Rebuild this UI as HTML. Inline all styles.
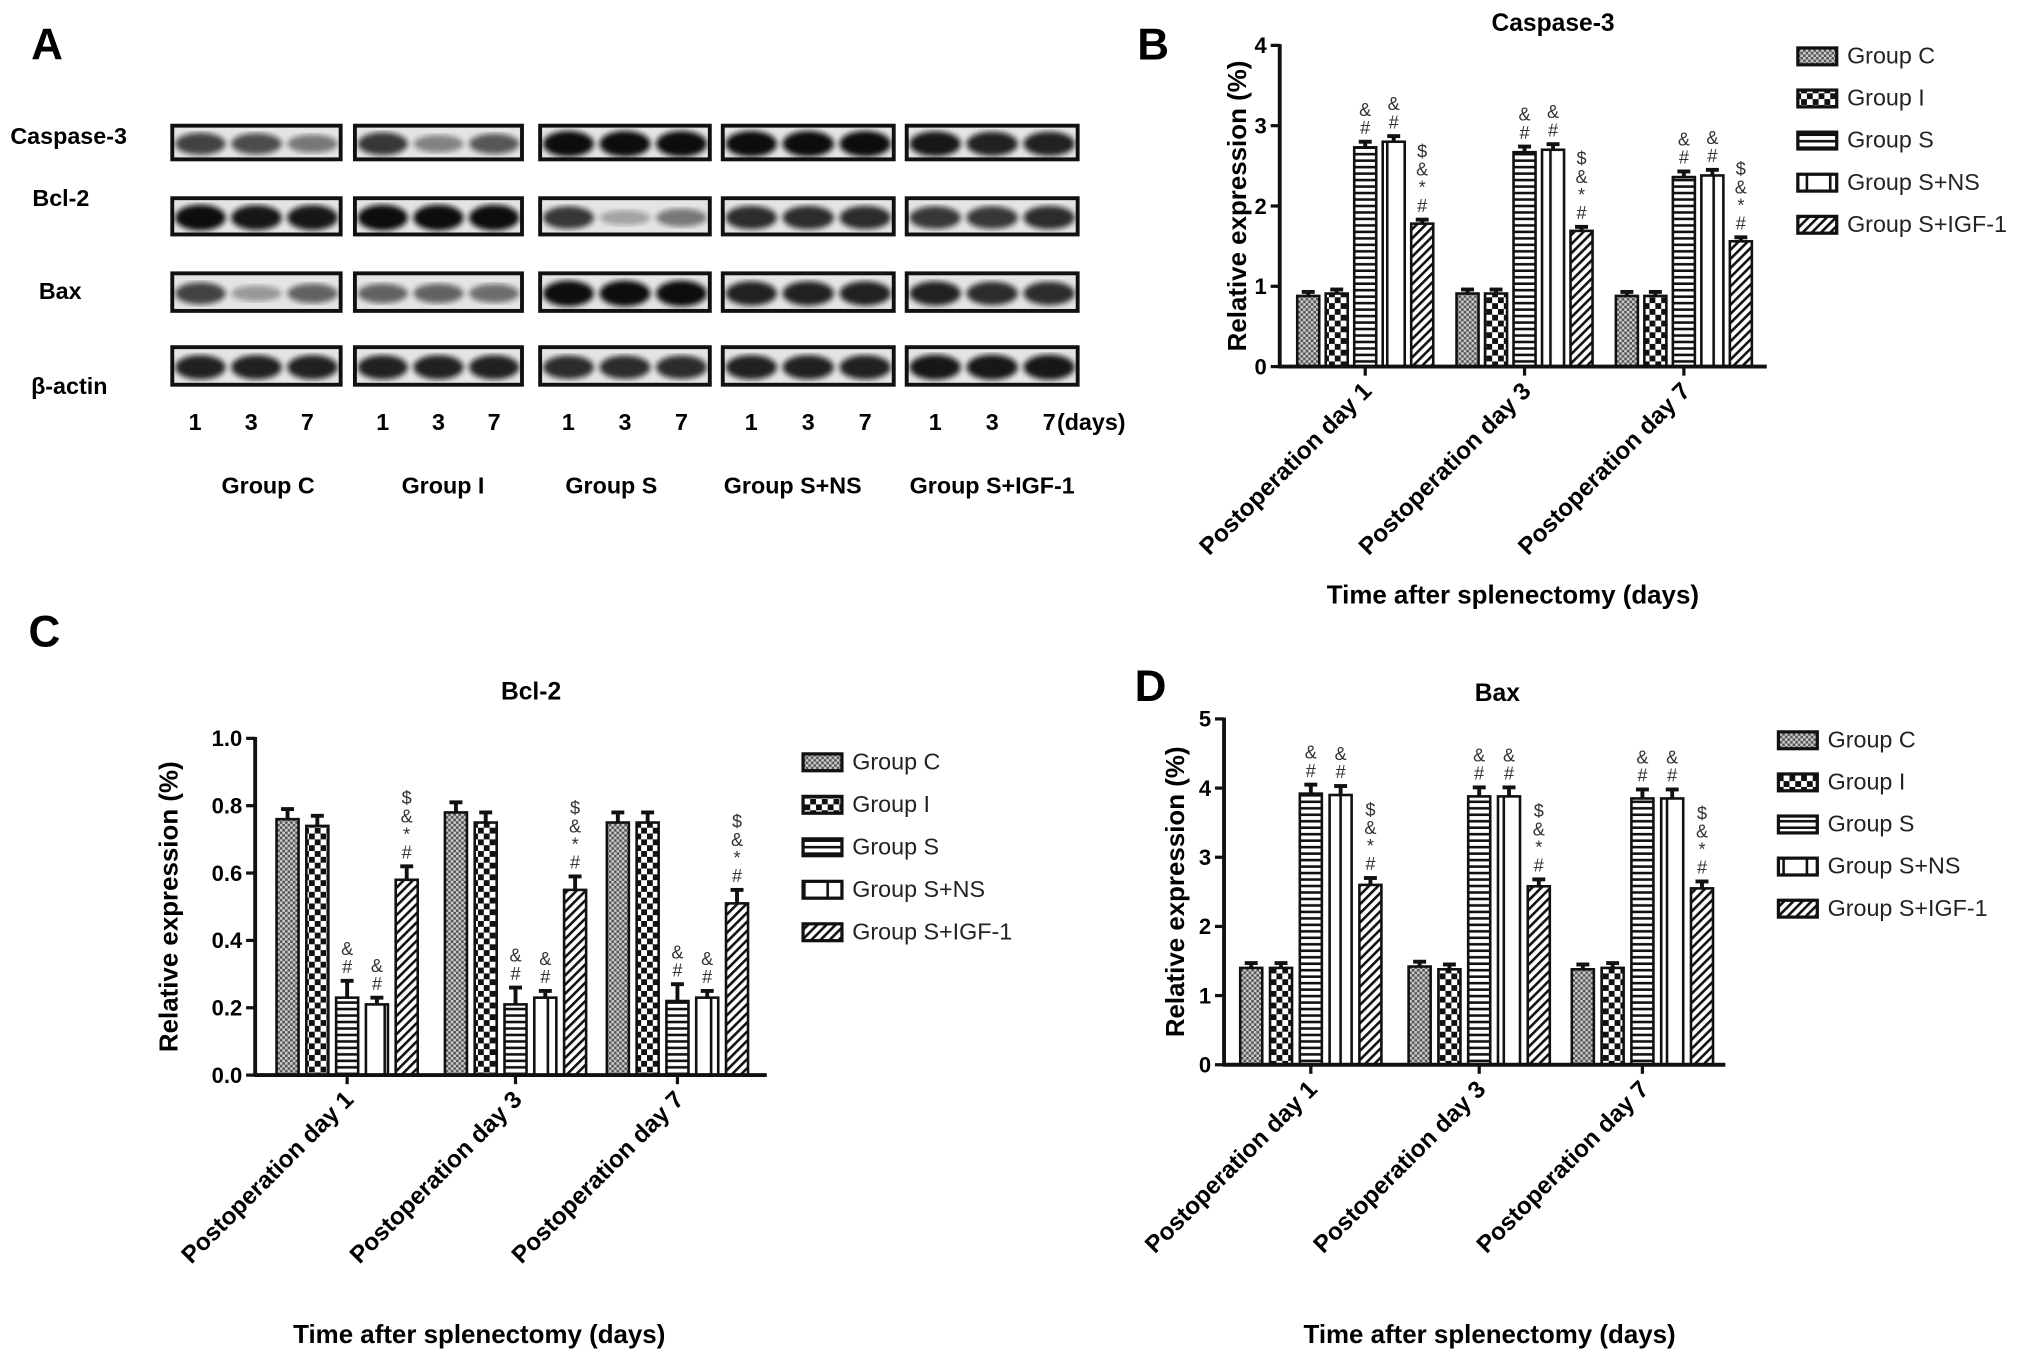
<!DOCTYPE html>
<html><head><meta charset="utf-8"><style>
html,body{margin:0;padding:0;background:#fff}
svg{display:block}
text{font-family:"Liberation Sans",Arial,sans-serif}
</style></head><body>
<svg id="fig" width="2031" height="1364" viewBox="0 0 1568 1053" xmlns="http://www.w3.org/2000/svg">
<defs>
<pattern id="pC" width="4" height="4" patternUnits="userSpaceOnUse"><rect width="4" height="4" fill="#555"/><rect width="2" height="2" fill="#ccc"/><rect x="2" y="2" width="2" height="2" fill="#ccc"/></pattern>
<pattern id="pI" width="9" height="9" patternUnits="userSpaceOnUse"><rect width="9" height="9" fill="#fff"/><rect width="4.5" height="4.5" fill="#111"/><rect x="4.5" y="4.5" width="4.5" height="4.5" fill="#111"/></pattern>
<pattern id="pS" width="6" height="5" patternUnits="userSpaceOnUse"><rect width="6" height="5" fill="#fff"/><rect y="3" width="6" height="2" fill="#111"/></pattern>
<pattern id="pN" width="18" height="6" patternUnits="userSpaceOnUse"><rect width="18" height="6" fill="#fff"/><rect x="8" width="2" height="6" fill="#111"/></pattern>
<pattern id="pG" width="5" height="5" patternUnits="userSpaceOnUse" patternTransform="rotate(45)"><rect width="5" height="5" fill="#fff"/><rect width="2" height="5" fill="#111"/></pattern>
<filter id="blur"><feGaussianBlur stdDeviation="2"/></filter>
</defs>
<g id="panelA"></g>
<g id="charts"></g>
</svg>
<script>
const NS="http://www.w3.org/2000/svg";
const svg=document.getElementById('fig');
function el(tag,attrs,parent,txt){const e=document.createElementNS(NS,tag);for(const k in attrs)e.setAttribute(k,attrs[k]);if(txt!==undefined)e.textContent=txt;(parent||svg).appendChild(e);return e;}

// ---- Data ----
const categories=["Postoperation day 1","Postoperation day 3","Postoperation day 7"];
const groups=["Group C","Group I","Group S","Group S+NS","Group S+IGF-1"];
const casp3GroupC=[0.88,0.91,0.88];
const casp3GroupI=[0.91,0.91,0.88];
const casp3GroupS=[2.73,2.67,2.36];
const casp3GroupSNS=[2.80,2.70,2.38];
const casp3GroupIGF=[1.78,1.69,1.56];
const bcl2GroupC=[0.76,0.78,0.75];
const bcl2GroupI=[0.74,0.75,0.75];
const bcl2GroupS=[0.23,0.21,0.22];
const bcl2GroupSNS=[0.21,0.23,0.23];
const bcl2GroupIGF=[0.58,0.55,0.51];
const baxGroupC=[1.40,1.42,1.38];
const baxGroupI=[1.40,1.38,1.40];
const baxGroupS=[3.92,3.88,3.85];
const baxGroupSNS=[3.90,3.88,3.85];
const baxGroupIGF=[2.60,2.58,2.55];
const casp3Ticks=["0","1","2","3","4"];
const bcl2Ticks=["0.0","0.2","0.4","0.6","0.8","1.0"];
const baxTicks=["0","1","2","3","4","5"];
const casp3Err=[0.05,0.05,0.07,0.07,0.05];
const bcl2Err=[0.03,0.03,0.05,0.02,0.04];
const baxErr=[0.07,0.07,0.13,0.13,0.1];

const fills=["url(#pC)","url(#pI)","url(#pS)","url(#pN)","url(#pG)"];
const marks=[[],[],["#","&"],["#","&"],["#","*","&","$"]];

function chart(o){
  const g=el('g',{},document.getElementById('charts'));
  
  
  const y=v=>o.y0-(v/o.max)*(o.y0-o.yTop);
  const x=(ci,gi)=>o.cx[ci]+(gi-2)*o.step;
  const t=el('text',{x:o.titleX,y:o.titleY,'font-size':19,'font-weight':'bold','text-anchor':'middle'},g,o.title);
  
  o.series.forEach((s,gi)=>{s.forEach((v,ci)=>{
    const bx=x(ci,gi)-o.bw/2, by=y(v);
    const b=el('rect',{x:bx,y:by,width:o.bw,height:o.y0-by,fill:fills[gi],stroke:'#111','stroke-width':2},g);
    
    const ey=y(v+o.err[gi]);
    el('line',{x1:x(ci,gi),x2:x(ci,gi),y1:by,y2:ey,stroke:'#111','stroke-width':3},g);
    el('line',{x1:x(ci,gi)-5,x2:x(ci,gi)+5,y1:ey,y2:ey,stroke:'#111','stroke-width':3},g);
    marks[gi].forEach((m,k)=>{
      const a=el('text',{x:x(ci,gi),y:ey-6-k*14,'font-size':14,'text-anchor':'middle',fill:'#333'},g,m);
      
    });
  });});
  el('line',{x1:o.x0,x2:o.x0,y1:o.yTop-1,y2:o.y0+1,stroke:'#111','stroke-width':3},g);
  el('line',{x1:o.x0-1,x2:o.xEnd,y1:o.y0,y2:o.y0,stroke:'#111','stroke-width':3},g);
  o.ticks.forEach((tl,i)=>{
    const ty=y(i*o.max/(o.ticks.length-1));
    el('line',{x1:o.x0-7,x2:o.x0,y1:ty,y2:ty,stroke:'#111','stroke-width':2.5},g);
    const tt=el('text',{x:o.x0-10,y:ty+6,'font-size':17,'font-weight':'bold','text-anchor':'end'},g,tl);
    
  });
  categories.forEach((c,ci)=>{
    el('line',{x1:o.cx[ci],x2:o.cx[ci],y1:o.y0,y2:o.y0+7,stroke:'#111','stroke-width':2.5},g);
    const ct=el('text',{x:o.cx[ci]+6,y:o.y0+20,'font-size':18.7,'font-weight':'bold','text-anchor':'end',transform:`rotate(-45 ${o.cx[ci]+6} ${o.y0+20})`},g,c);
    
  });
  const xt=el('text',{x:o.xtX,y:o.xtY,'font-size':20,'font-weight':'bold','text-anchor':'middle'},g,'Time after splenectomy (days)');
  
  const yt=el('text',{x:o.ytX,y:(o.y0+o.yTop)/2,'font-size':20,'font-weight':'bold','text-anchor':'middle',transform:`rotate(-90 ${o.ytX} ${(o.y0+o.yTop)/2})`},g,'Relative expression (%)');
  
  groups.forEach((gn,gi)=>{
    const ly=o.legY+gi*o.legStep;
    const le=el('g',{},g);
    
    el('rect',{x:o.legX,y:ly-6,width:30,height:13,fill:fills[gi],stroke:'#111','stroke-width':2.5},le);
    el('text',{x:o.legX+38,y:ly+6,'font-size':18,fill:'#222'},le,gn);
  });
  return g;
}
chart({name:'caspase-3-chart',title:'Caspase-3',titleX:1199,titleY:24,x0:988,xEnd:1364,y0:283,yTop:35,max:4,cx:[1054,1177,1300],step:22,bw:17,
 series:[casp3GroupC,casp3GroupI,casp3GroupS,casp3GroupSNS,casp3GroupIGF],err:casp3Err,ticks:casp3Ticks,
 xtX:1168,xtY:466,ytX:962,legX:1388,legY:43,legStep:32.5});
chart({name:'bcl-2-chart',title:'Bcl-2',titleX:410,titleY:540,x0:197,xEnd:592,y0:830,yTop:570,max:1,cx:[268,398,523],step:23,bw:17,
 series:[bcl2GroupC,bcl2GroupI,bcl2GroupS,bcl2GroupSNS,bcl2GroupIGF],err:bcl2Err,ticks:bcl2Ticks,
 xtX:370,xtY:1037,ytX:137,legX:620,legY:588,legStep:32.8});
chart({name:'bax-chart',title:'Bax',titleX:1156,titleY:541,x0:945,xEnd:1332,y0:822,yTop:555,max:5,cx:[1012,1142,1268],step:23,bw:17,
 series:[baxGroupC,baxGroupI,baxGroupS,baxGroupSNS,baxGroupIGF],err:baxErr,ticks:baxTicks,
 xtX:1150,xtY:1037,ytX:914,legX:1373,legY:571,legStep:32.5});

[["A",24,46],["B",878,46],["C",22,499],["D",876,541]].forEach(p=>{
  const t=el('text',{x:p[1],y:p[2],'font-size':34,'font-weight':'bold'},svg,p[0]);
  
});

const A=document.getElementById('panelA');
const blotRows=[[97,123],[153,181],[211,240],[268,297]];
const blotCols=[[133,263],[274,403],[417,548],[558,690],[700,832]];
const blotLabels=[["Caspase-3",8,111],["Bcl-2",25,159],["Bax",30,231],["β-actin",24,304]];
const intens=[[[.75,.7,.5],[.8,.45,.65],[1,1,1],[1,1,1],[.95,.9,.9]],
[[1,.95,.95],[1,1,1],[.8,.3,.5],[.85,.85,.85],[.8,.8,.85]],
[[.75,.35,.6],[.6,.6,.55],[1,1,1],[.9,.9,.9],[.9,.85,.85]],
[[.9,.9,.9],[.9,.9,.9],[.85,.85,.85],[.9,.9,.9],[.95,.95,.95]]];
blotRows.forEach((r,ri)=>{
  blotCols.forEach((c,ci)=>{
    const b=el('g',{},A);
    
    el('rect',{x:c[0],y:r[0],width:c[1]-c[0],height:r[1]-r[0],fill:'#e4e4e4',stroke:'#111','stroke-width':3},b);
    const w=(c[1]-c[0])/3;
    for(let k=0;k<3;k++){
      const v=intens[ri][ci][k];
      el('ellipse',{cx:c[0]+w*(k+.5),cy:(r[0]+r[1])/2+1,rx:w*0.45,ry:4+v*6,fill:'#111',opacity:v,filter:'url(#blur)'},b);
    }
  });
});
blotLabels.forEach(l=>{
  const t=el('text',{x:l[1],y:l[2],'font-size':18,'font-weight':'bold'},A,l[0]);
  
});
const lanes=["1","3","7"];
blotCols.forEach((c,ci)=>{
  const w=(c[1]-c[0])/3;
  lanes.forEach((ln,k)=>{
    el('text',{x:c[0]+w*(k+.5)+(ci==0?-4:0),y:332,'font-size':18,'font-weight':'bold','text-anchor':'middle'},A,ln);
  });
});
el('text',{x:816,y:332,'font-size':18,'font-weight':'bold'},A,'(days)');
const grpX=[207,342,472,612,766];
groups.forEach((gn,i)=>{
  const t=el('text',{x:grpX[i],y:381,'font-size':18,'font-weight':'bold','text-anchor':'middle'},A,gn);
  
});
</script>
</body></html>
